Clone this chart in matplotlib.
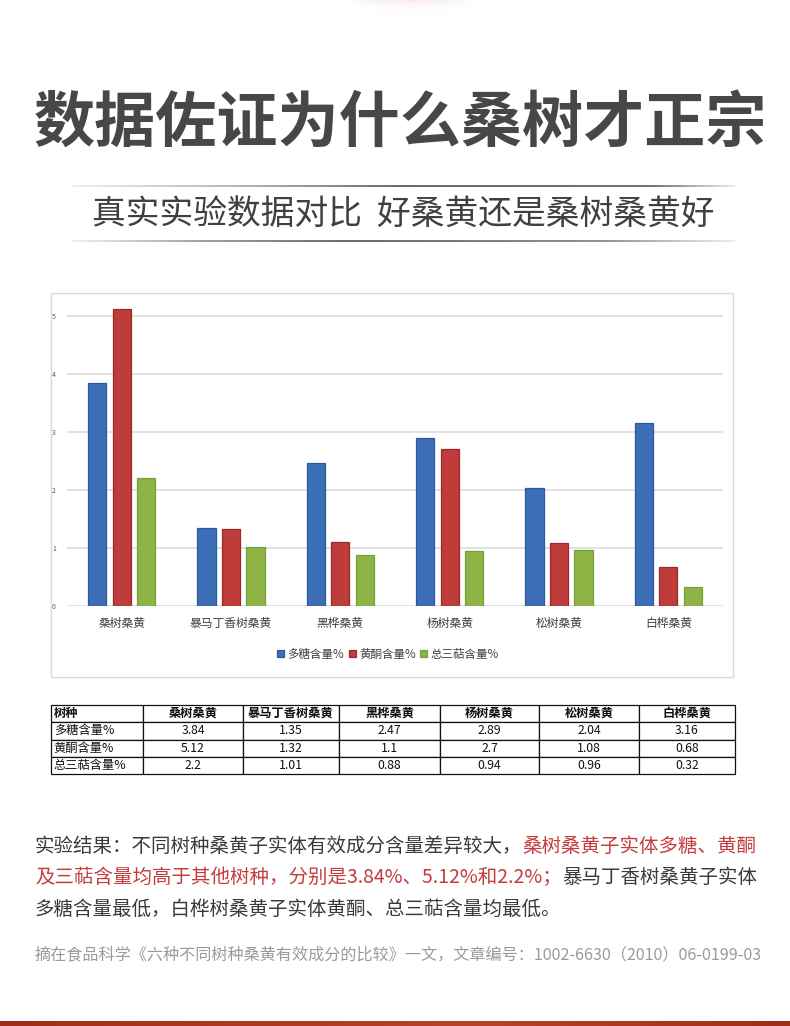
import matplotlib
matplotlib.use('Agg')
import matplotlib.pyplot as plt
import numpy as np
from matplotlib.patches import Rectangle
from matplotlib.collections import LineCollection

plt.rcParams['font.family'] = ['Noto Sans CJK SC', 'DejaVu Sans']

# data
categories = ['桑树桑黄', '暴马丁香树桑黄', '黑桦桑黄', '杨树桑黄', '松树桑黄', '白桦桑黄']
series_names = ['多糖含量%', '黄酮含量%', '总三萜含量%']
polysaccharide = [3.84, 1.35, 2.47, 2.89, 2.04, 3.16]
flavonoid = [5.12, 1.32, 1.1, 2.7, 1.08, 0.68]
triterpene = [2.2, 1.01, 0.88, 0.94, 0.96, 0.32]
table_header = ['树种'] + categories
table_values = [polysaccharide, flavonoid, triterpene]

W, H = 790, 1026
face_colors = ['#3D6FB6', '#BE3C3A', '#8EB446']
edge_colors = ['#2858A6', '#A02826', '#76A03A']


def fx(x):
    return x / W


def fy(y):
    return 1 - y / H


fig = plt.figure(figsize=(W / 100, H / 100), dpi=100)
fig.patch.set_facecolor('white')

# faint glow at the top
glow_ax = fig.add_axes([fx(345), fy(20), fx(130), 20 / H])
gx = np.linspace(-1, 1, 200)
gy = np.linspace(0, 1, 30)
GX, GY = np.meshgrid(gx, gy)
alpha = np.clip(1 - gx[None, :] ** 2, 0, 1) * np.exp(-GY * 5) * 0.18
glow = np.zeros((30, 200, 4))
glow[..., 0], glow[..., 1], glow[..., 2] = 0.80, 0.55, 0.48
glow[..., 3] = alpha
glow_ax.imshow(glow, aspect='auto', extent=[0, 1, 1, 0])
glow_ax.axis('off')

# title and subtitle
fig.text(fx(400), fy(124), '数据佐证为什么桑树才正宗', ha='center', va='center',
         fontsize=44, fontweight='bold', color='#474747')
fig.text(fx(403), fy(214), '真实实验数据对比  好桑黄还是桑树桑黄好', ha='center', va='center',
         fontsize=24.3, fontweight='light', color='#404040')


def fade_line(y, x0, x1, keys_x, keys_a):
    xs = np.linspace(x0, x1, 200)
    a = np.interp(xs, keys_x, keys_a)
    segs = [[(fx(xs[i]), fy(y)), (fx(xs[i + 1]), fy(y))] for i in range(len(xs) - 1)]
    cols = [(0.2, 0.2, 0.2, a[i]) for i in range(len(xs) - 1)]
    fig.add_artist(LineCollection(segs, colors=cols, linewidths=1.1, transform=fig.transFigure))


fade_line(186, 72, 735, [72, 250, 400, 650, 735], [0.1, 0.5, 0.95, 0.9, 0.1])
fade_line(241, 72, 735, [72, 200, 350, 600, 735], [0.1, 0.6, 0.95, 0.7, 0.1])

# chart frame
fig.add_artist(Rectangle((fx(51), fy(677)), fx(733) - fx(51), fy(293) - fy(677),
                         transform=fig.transFigure, fill=False, edgecolor='#D9D9D9', lw=1))

ax = fig.add_axes([fx(67), fy(606), fx(723) - fx(67), (606 - 298.6) / H])
x = np.arange(len(categories))
offsets = [-0.224, 0, 0.224]
for vals, off, fc, ec, name in zip([polysaccharide, flavonoid, triterpene], offsets,
                                   face_colors, edge_colors, series_names):
    ax.bar(x + off, vals, width=0.165, color=fc, edgecolor=ec, linewidth=0.9, label=name, zorder=3)

ax.set_xlim(-0.5, 5.5)
ax.set_ylim(0, 5.3)
ax.set_yticks(range(6))
ax.yaxis.grid(True, color='#D9D9D9', lw=1.1, zorder=0)
ax.set_axisbelow(True)
for s in ax.spines.values():
    s.set_visible(False)
ax.tick_params(axis='y', length=0, labelsize=5, labelcolor='#595959', pad=8)
ax.set_xticks(x, categories)
ax.tick_params(axis='x', length=0, labelsize=8.5, labelcolor='#404040', pad=8)

ax.legend(loc='center', bbox_to_anchor=(fx(388), fy(654)), bbox_transform=fig.transFigure,
          ncol=3, frameon=False, fontsize=8.3, handlelength=0.6, handleheight=0.6,
          handletextpad=0.3, columnspacing=0.4, labelcolor='#404040')

# data table
tab_ax = fig.add_axes([fx(51), fy(774), fx(735) - fx(51), (774 - 705) / H])
tab_ax.axis('off')
cell_text = [table_header]
for name, vals in zip(series_names, table_values):
    cell_text.append([name] + [f'{v:g}' for v in vals])
col_edges = [51, 143, 243, 339, 440, 539, 639, 735]
col_widths = list(np.diff(col_edges) / (735 - 51))
table = tab_ax.table(cellText=cell_text, cellLoc='center', colWidths=col_widths,
                     bbox=[0, 0, 1, 1])
table.auto_set_font_size(False)
table.set_fontsize(8.8)
for (r, c), cell in table.get_celld().items():
    cell.set_edgecolor('#111111')
    cell.set_linewidth(0.9)
    cell.get_text().set_color('#111111')
    if r == 0:
        cell.get_text().set_fontweight('bold')
    if c == 0:
        cell._loc = 'left'
        cell.PAD = 0.03
        cell.get_text().set_ha('left')

# result paragraph with mixed colours
renderer = fig.canvas.get_renderer()
dark = '#3a3a3a'
red = '#C43C3C'
lines = [
    [('实验结果：不同树种桑黄子实体有效成分含量差异较大，', dark), ('桑树桑黄子实体多糖、黄酮', red)],
    [('及三萜含量均高于其他树种，分别是3.84%、5.12%和2.2%；', red), ('暴马丁香树桑黄子实体', dark)],
    [('多糖含量最低，白桦树桑黄子实体黄酮、总三萜含量均最低。', dark)],
]
for i, runs in enumerate(lines):
    xpos = fx(35)
    for txt, col in runs:
        t = fig.text(xpos, fy(846 + i * 31.5), txt, ha='left', va='center',
                     fontsize=14.0, color=col)
        xpos += t.get_window_extent(renderer).width / W

fig.text(fx(35), fy(955), '摘在食品科学《六种不同树种桑黄有效成分的比较》一文，文章编号：1002-6630（2010）06-0199-03',
         ha='left', va='center', fontsize=11.6, color='#9a9a9a', fontweight='light')

# red band at bottom
band_ax = fig.add_axes([0, 0, 1, 5 / H])
bx = np.linspace(0, 1, 300)
light = np.interp(bx, [0, 0.6, 1], [0.0, 1.0, 0.0])
band = np.zeros((1, 300, 3))
band[0, :, 0] = 0.64 + 0.09 * light
band[0, :, 1] = 0.17 + 0.09 * light
band[0, :, 2] = 0.10 + 0.07 * light
band_ax.imshow(band, aspect='auto', extent=[0, 1, 0, 1])
band_ax.axis('off')

fig.savefig('out.png', dpi=100)
